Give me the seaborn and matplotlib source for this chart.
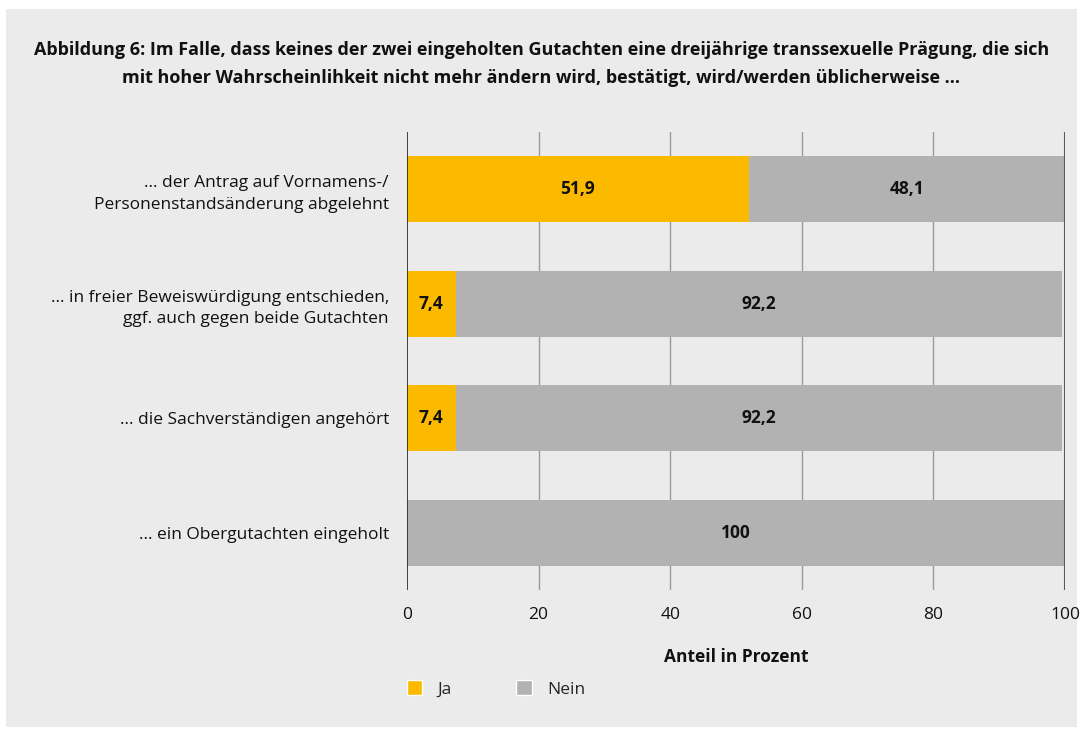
import numpy as np
import pandas as pd
import matplotlib.pyplot as plt
import seaborn as sns
from matplotlib.patches import Patch

# Data
categories = [
    '… der Antrag auf Vornamens-/\nPersonenstandsänderung abgelehnt',
    '… in freier Beweiswürdigung entschieden,\nggf. auch gegen beide Gutachten',
    '… die Sachverständigen angehört',
    '… ein Obergutachten eingeholt',
]
ja = [51.9, 7.4, 7.4, 0.0]
nein = [48.1, 92.2, 92.2, 100.0]
ja_labels = ['51,9', '7,4', '7,4', '']
nein_labels = ['48,1', '92,2', '92,2', '100']

title = ('Abbildung 6: Im Falle, dass keines der zwei eingeholten Gutachten eine dreijährige transsexuelle Prägung, die sich\n'
         'mit hoher Wahrscheinlihkeit nicht mehr ändern wird, bestätigt, wird/werden üblicherweise …')

YELLOW = '#fbb900'
GRAY = '#b2b2b3'
BG = '#ebebeb'

df = pd.DataFrame({'cat': categories, 'ja': ja, 'nein': nein})
df['total'] = df['ja'] + df['nein']

sns.set_style('white')
plt.rcParams['font.family'] = ['Open Sans', 'DejaVu Sans']

fig = plt.figure(figsize=(10.83, 7.35), dpi=100)
fig.patch.set_facecolor('white')
# grey panel behind everything
fig.patches.append(plt.Rectangle((6 / 1083, 1 - 727 / 735), 1071 / 1083, 718 / 735,
                                 transform=fig.transFigure, facecolor=BG, edgecolor='none', zorder=-10))

ax = fig.add_axes([407 / 1083, 1 - 590 / 735, 658 / 1083, 458 / 735])
ax.set_facecolor(BG)

# stacked bars: total (grey) then "Ja" on top
sns.barplot(data=df, y='cat', x='total', color=GRAY, orient='h', width=0.58,
            saturation=1, linewidth=0, ax=ax, zorder=3)
sns.barplot(data=df, y='cat', x='ja', color=YELLOW, orient='h', width=0.58,
            saturation=1, linewidth=0, ax=ax, zorder=4)

for i in range(len(categories)):
    if ja_labels[i]:
        ax.text(ja[i] / 2, i, ja_labels[i], ha='center', va='center',
                fontsize=12.5, fontweight='bold', color='#111111', zorder=5)
    ax.text(ja[i] + nein[i] / 2, i, nein_labels[i], ha='center', va='center',
            fontsize=12.5, fontweight='bold', color='#111111', zorder=5)

ax.set_xlim(0, 100)
ax.set_ylim(3.5, -0.5)
ax.set_xticks([0, 20, 40, 60, 80, 100])
for x in [20, 40, 60, 80]:
    ax.axvline(x, color='#9a9a9a', lw=1, zorder=1)
ax.axvline(100, color='#5a5a5a', lw=1.5, zorder=6)
ax.axvline(0, color='#222222', lw=1.2, zorder=6)
for s in ax.spines.values():
    s.set_visible(False)
ax.tick_params(axis='x', length=0, pad=12, labelsize=12.5, labelcolor='#111111')
ax.tick_params(axis='y', length=0, pad=13, labelsize=12.5, labelcolor='#111111')
for lbl in ax.get_yticklabels():
    lbl.set_linespacing(1.45)
ax.set_ylabel('')
ax.set_xlabel('Anteil in Prozent', fontsize=12.5, fontweight='bold', labelpad=18, color='#111111')

fig.text(0.5, 1 - 64 / 735, title, ha='center', va='center', fontsize=13,
         fontweight='bold', color='#111111', linespacing=1.75)

handles = [Patch(facecolor=YELLOW, label='Ja'), Patch(facecolor=GRAY, label='Nein')]
fig.legend(handles=handles, loc='center left', bbox_to_anchor=(391 / 1083, 1 - 689 / 735),
           ncol=2, frameon=False, fontsize=12.5, handlelength=0.9, handleheight=0.9,
           columnspacing=3.7, handletextpad=0.9)

fig.savefig('out.png', dpi=100, facecolor=fig.get_facecolor())
